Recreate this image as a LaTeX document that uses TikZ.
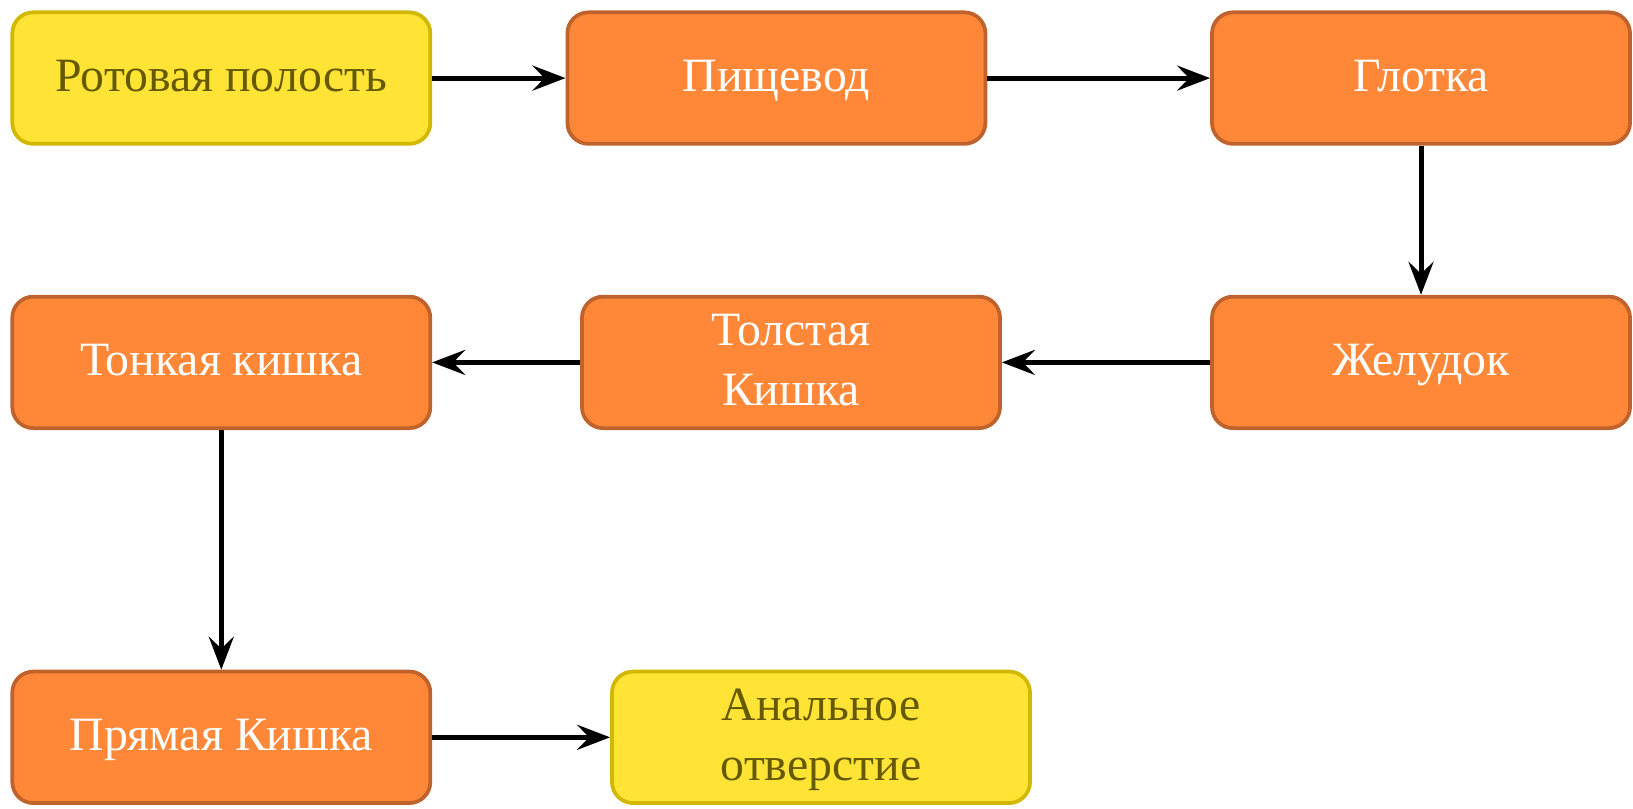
\documentclass[tikz,border=0pt]{standalone}
\usepackage{fontspec}
\setmainfont{Liberation Serif}
\usepackage{xcolor}
\usetikzlibrary{arrows.meta}
\definecolor{ylwfill}{HTML}{FFE436}
\definecolor{ylwline}{HTML}{D2B800}
\definecolor{ylwtext}{HTML}{665A00}
\definecolor{orgfill}{HTML}{FF8838}
\definecolor{orgline}{HTML}{C0622B}
\begin{document}
\begin{tikzpicture}[
  organ/.style={draw=orgline, fill=orgfill, text=white, line width=0.075cm, rounded corners=0.42cm,
    minimum width=8.36cm, minimum height=2.63cm, align=center, text depth=0.1cm,
    font=\fontsize{27.2}{34}\selectfont},
  endorgan/.style={organ, draw=ylwline, fill=ylwfill, text=ylwtext},
  flow/.style={line width=0.1cm, -{Stealth[length=0.66cm, width=0.5cm, inset=0.24cm]}}
]
\useasboundingbox (0,0) rectangle (32.66,-16.16);
\node[endorgan] (mouth) at (4.426,-1.562) {Ротовая полость};
\node[organ] (esoph) at (15.528,-1.562) {Пищевод};
\node[organ] (throat) at (28.42,-1.562) {Глотка};
\node[organ] (stomach) at (28.42,-7.248) {Желудок};
\node[organ] (colon) at (15.82,-7.248) {Толстая\\Кишка};
\node[organ] (smallint) at (4.426,-7.248) {Тонкая кишка};
\node[organ] (rectum) at (4.426,-14.746) {Прямая Кишка};
\node[endorgan] (anus) at (16.42,-14.746) {Анальное\\отверстие};
\draw[flow] (mouth)--(esoph);
\draw[flow] (esoph)--(throat);
\draw[flow] (throat)--(stomach);
\draw[flow] (stomach)--(colon);
\draw[flow] (colon)--(smallint);
\draw[flow] (smallint)--(rectum);
\draw[flow] (rectum)--(anus);
\end{tikzpicture}
\end{document}
